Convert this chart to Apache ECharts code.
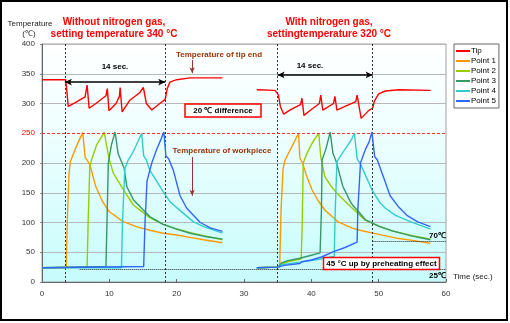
<!DOCTYPE html>
<html><head><meta charset="utf-8">
<script src="https://cdn.jsdelivr.net/npm/echarts@6/dist/echarts.min.js"></script>
<style>html,body{margin:0;padding:0;background:#fff}#c{width:510px;height:323px}</style>
</head><body><div id="c"></div>
<script>
// ---- data (time in s, temperature in °C) ----
const xTicks = [0, 10, 20, 30, 40, 50, 60];
const yTicks = [0, 50, 100, 150, 200, 250, 300, 350, 400];
const seriesNames = ['Tip', 'Point 1', 'Point 2', 'Point 3', 'Point 4', 'Point 5'];

const tipLeft = [[0,340],[3.5,340],[3.7,320],[3.9,295],[5,302],[6.4,311],[6.7,331],[7.0,292],[8,300],[9.5,313],[9.7,325],[9.95,288],[11,300],[11.5,312],[11.6,327],[11.9,286],[13,305],[14.5,318],[15.05,327],[15.5,300],[16.3,289],[17.5,300],[18.3,307],[18.6,325],[19,336],[20,340],[22,343],[26.8,343]];
const tipRight = [[31.9,323],[34.6,322],[35.1,315],[35.4,295],[35.9,282],[37,290],[38.4,298],[38.6,309],[38.9,280],[40,290],[41.2,300],[41.4,314],[41.7,289],[43.3,300],[43.5,312],[43.8,289],[45,295],[46.6,303],[46.8,314],[47.4,275],[48.5,288],[49.1,292],[49.4,305],[50,316],[51,321],[53,323],[57.7,322]];

const p1Left = [[0,24],[3.6,24],[3.75,100],[4.0,180],[4.2,202],[5,225],[5.5,238],[6.05,251],[6.4,210],[6.7,205],[7.1,197],[8,160],[9,135],[10,118],[12,102],[14,93],[16,87],[18,82],[20,79],[22,75],[24,71],[26.8,66]];
const p2Left = [[0,24],[6.7,25],[6.85,100],[7.1,195],[7.5,210],[8.1,230],[8.8,243],[9.25,252],[9.5,235],[10,205],[10.6,183],[12.1,155],[13.6,129],[15,117],[16,108],[18,97],[20,89],[22,83],[24,78],[26.8,71]];
const p3Left = [[0,24],[9.5,26],[9.65,100],[9.85,200],[10.3,230],[10.85,252],[11.3,216],[11.7,205],[12.2,191],[12.6,160],[13.6,138],[15.05,121],[16,110],[18,97],[20,89],[22,82],[24,77],[26.8,72]];
const p4Left = [[0,24],[11.8,24],[11.95,100],[12.3,190],[12.8,205],[13.5,218],[14.2,235],[14.8,250],[15.1,212],[15.5,205],[16,188],[17,170],[18,152],[19,135],[20,125],[22.5,101],[24,93],[26.8,82]];
const p5Left = [[0,24],[15.1,26],[15.3,100],[15.6,170],[16.3,200],[17,222],[17.6,238],[18.1,252],[18.4,212],[18.8,207],[19.5,188],[20.5,145],[21.5,124],[23.5,100],[25,91],[26.8,85]];

const p1Right = [[31.9,24],[35.3,25],[35.5,120],[35.8,190],[36.1,205],[37,225],[38.1,250],[38.3,208],[38.7,200],[39.3,178],[40.1,155],[41,137],[42,121],[44,101],[46,91],[47.2,87],[50,80],[53,73],[55,70],[57.7,65]];
const p2Right = [[31.9,24],[35,25],[35.6,30],[36.5,34],[38.5,39],[38.65,100],[38.8,200],[39.3,215],[40.2,235],[41.1,250],[41.4,210],[42,177],[43,160],[43.8,149],[45.8,127],[48,104],[50,94],[52,86],[55,78],[57.7,72]];
const p3Right = [[31.9,24],[35,25],[35.6,32],[36.5,36],[38.3,40],[40,45],[41.3,49],[41.5,120],[41.6,205],[42.2,225],[42.8,252],[43.2,217],[43.7,202],[44.7,160],[45.8,135],[46.2,128],[46.4,131],[46.8,121],[48,105],[50,94],[52,86],[55,77],[57.7,71]];
const p4Right = [[31.9,24],[35,25],[35.7,29],[38,33],[40,36],[42,40],[43.4,43],[43.55,120],[43.8,202],[44.5,215],[45.3,228],[46,240],[46.4,250],[46.8,207],[47.3,198],[47.9,183],[49,155],[50.2,133],[51,124],[52.5,112],[54.8,101],[57.7,89]];
const p5Right = [[31.9,24],[35,25],[36,28],[38.3,31],[38.6,34],[40,37],[41.5,42],[43.3,51],[45,58],[46.8,67],[46.9,120],[47.3,200],[48,222],[48.6,236],[49.0,252],[49.4,211],[49.8,205],[50.7,177],[51.7,145],[52.9,127],[54.2,112],[55.8,101],[57.7,93]];

// annotation values (data coordinates)
const dashTimes = [3.4, 18.3, 35.0, 49.1];
const spanLeft = [3.4, 18.3, 336];   // from, to, at temperature
const spanRight = [35.0, 49.1, 348];
const tipArrow = [22.3, 373, 351];    // time, from temp, to temp
const workArrow = [22.3, 210, 145];
const level70 = [49.1, 60, 69];
const level25 = [5.6, 60, 22];

const colors = ['#ff0000', '#ff9900', '#99cc00', '#339966', '#33cccc', '#3366ff'];
const leftSets = [tipLeft, p1Left, p2Left, p3Left, p4Left, p5Left];
const rightSets = [tipRight, p1Right, p2Right, p3Right, p4Right, p5Right];

const chart = echarts.init(document.getElementById('c'), null, {renderer: 'canvas'});
const FONT = 'Liberation Sans';

const series = [];
seriesNames.forEach((n, i) => {
  [leftSets[i], rightSets[i]].forEach(d => {
    series.push({
      name: n, type: 'line', data: d, symbol: 'none', showSymbol: false, smooth: false,
      lineStyle: {width: 1.4, color: colors[i]}, itemStyle: {color: colors[i]},
      z: 2 + i, animation: false
    });
  });
});

const mlData = [];
dashTimes.forEach(t => mlData.push([{coord: [t, 0], lineStyle: {type: [2, 2], color: '#333', width: 1}}, {coord: [t, 400]}]));
mlData.push([{coord: [level70[0], level70[2]], lineStyle: {type: [1, 1], color: '#222', width: 1}}, {coord: [level70[1], level70[2]]}]);
mlData.push([{coord: [level25[0], level25[2]], lineStyle: {type: [1, 1], color: '#222', width: 1}}, {coord: [level25[1], level25[2]]}]);
mlData.push([{coord: [0, 250], lineStyle: {type: [3, 2], color: '#ff3333', width: 1}}, {coord: [60, 250]}]);

const arrowData = [
  [{coord: [spanLeft[0], spanLeft[2]]}, {coord: [spanLeft[1], spanLeft[2]]}],
  [{coord: [spanRight[0], spanRight[2]]}, {coord: [spanRight[1], spanRight[2]]}]
];
const brownData = [
  [{coord: [tipArrow[0], tipArrow[1]]}, {coord: [tipArrow[0], tipArrow[2]]}],
  [{coord: [workArrow[0], workArrow[1]]}, {coord: [workArrow[0], workArrow[2]]}]
];

series.push({
  type: 'line', name: 'refs', data: [], symbol: 'none', silent: true, z: 1,
  markLine: {silent: true, symbol: ['none', 'none'], label: {show: false}, animation: false, data: mlData}
});
series.push({
  type: 'line', name: 'arrows', data: [], symbol: 'none', silent: true, z: 20,
  markLine: {silent: true, symbol: ['arrow', 'arrow'], symbolSize: [5, 7], label: {show: false}, animation: false,
    lineStyle: {type: 'solid', color: '#000', width: 1.5}, data: arrowData}
});
series.push({
  type: 'line', name: 'brown', data: [], symbol: 'none', silent: true, z: 20,
  markLine: {silent: true, symbol: ['none', 'arrow'], symbolSize: [4, 6], label: {show: false}, animation: false,
    lineStyle: {type: 'solid', color: '#993333', width: 1}, data: brownData}
});

const gridColors = yTicks.map(v => v === 250 ? 'rgba(0,0,0,0)' : '#b8b8b8');

function txt(x, y, s, o) {
  return {type: 'text', z: 100, style: Object.assign({x: x, y: y, text: s, fontFamily: FONT, fontSize: 8, fill: '#000', textAlign: 'left', textVerticalAlign: 'middle'}, o || {})};
}
function box(x, y, w, h) {
  return {type: 'rect', z: 99, shape: {x: x, y: y, width: w, height: h}, style: {fill: '#fff', stroke: '#ff0000', lineWidth: 1.5}};
}

chart.setOption({
  animation: false,
  backgroundColor: '#fff',
  grid: {left: 42, right: 64, top: 44, bottom: 41, show: true, borderColor: '#a0a0a0', borderWidth: 1,
    backgroundColor: new echarts.graphic.LinearGradient(0, 0, 0, 1, [{offset: 0, color: '#ffffff'}, {offset: 0.35, color: '#f0ffff'}, {offset: 1, color: '#c6fcfc'}])},
  legend: {
    data: seriesNames, orient: 'vertical', left: 454, top: 44, padding: [2, 3, 2, 2], itemGap: 0,
    itemWidth: 14, itemHeight: 2, icon: 'rect', backgroundColor: '#fff', borderColor: '#666', borderWidth: 1,
    textStyle: {fontFamily: FONT, fontSize: 8, color: '#000', lineHeight: 10, padding: [0, 0, 0, -4]}, selectedMode: false
  },
  xAxis: {
    type: 'value', min: 0, max: 60, interval: 10,
    axisLine: {show: true, lineStyle: {color: '#666', width: 1}},
    axisTick: {show: true, inside: true, length: 3, lineStyle: {color: '#666'}},
    axisLabel: {fontFamily: FONT, fontSize: 8, color: '#333', margin: 8, formatter: v => xTicks.includes(v) ? String(v) : ''},
    splitLine: {show: false}
  },
  yAxis: {
    type: 'value', min: 0, max: 400, interval: 50,
    axisLine: {show: true, lineStyle: {color: '#666', width: 1}},
    axisTick: {show: true, length: 2, lineStyle: {color: '#888'}},
    axisLabel: {fontFamily: FONT, fontSize: 8, color: '#333', margin: 7,
      formatter: v => v === 250 ? '{r|' + v + '}' : (yTicks.includes(v) ? String(v) : ''),
      rich: {r: {color: '#ff0000', fontFamily: FONT, fontSize: 8}}},
    splitLine: {show: true, lineStyle: {color: gridColors, width: 1}}
  },
  series: series,
  graphic: [
    {type: 'rect', z: 200, shape: {x: 1, y: 1, width: 506, height: 319}, style: {fill: 'none', stroke: '#000', lineWidth: 2}},
    txt(30, 24, 'Temperature', {textAlign: 'center', fill: '#222'}),
    txt(29, 34, '(℃)', {textAlign: 'center', fill: '#222'}),
    txt(114, 22, 'Without nitrogen gas,', {textAlign: 'center', fill: '#ff0000', fontWeight: 'bold', fontSize: 10}),
    txt(114, 34, 'setting temperature 340 °C', {textAlign: 'center', fill: '#ff0000', fontWeight: 'bold', fontSize: 10}),
    txt(329, 22, 'With nitrogen gas,', {textAlign: 'center', fill: '#ff0000', fontWeight: 'bold', fontSize: 10}),
    txt(329, 34, 'settingtemperature 320 °C', {textAlign: 'center', fill: '#ff0000', fontWeight: 'bold', fontSize: 10}),
    txt(115, 67, '14 sec.', {textAlign: 'center', fontWeight: 'bold'}),
    txt(310, 66, '14 sec.', {textAlign: 'center', fontWeight: 'bold'}),
    txt(219, 55, 'Temperature of tip end', {textAlign: 'center', fill: '#993300', fontWeight: 'bold'}),
    txt(222, 151, 'Temperature of workpiece', {textAlign: 'center', fill: '#993300', fontWeight: 'bold'}),
    box(185, 104, 76, 13),
    txt(223, 110.5, '20 ℃ difference', {textAlign: 'center', fontWeight: 'bold'}),
    box(323.5, 257.5, 116, 12),
    txt(381.5, 263.5, '45 °C up by preheating effect', {textAlign: 'center', fontWeight: 'bold'}),
    txt(446, 236, '70℃', {textAlign: 'right', fontWeight: 'bold'}),
    txt(446, 276, '25℃', {textAlign: 'right', fontWeight: 'bold'}),
    txt(453, 277, 'Time (sec.)', {fill: '#222'})
  ]
});
</script></body></html>
